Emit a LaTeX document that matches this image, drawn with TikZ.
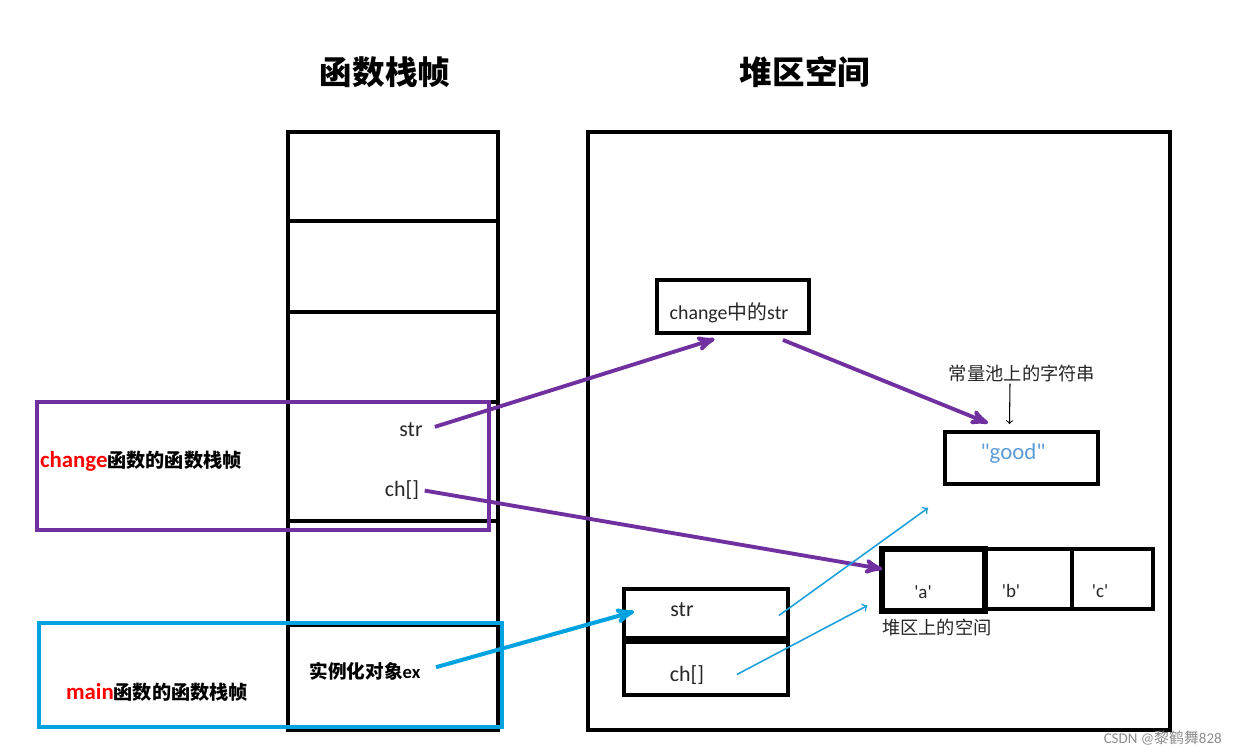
\documentclass[tikz,border=0pt]{standalone}
\usepackage{fontspec}
\setmainfont{Carlito}
\newfontfamily\cjk{Noto Sans CJK SC}
\newfontfamily\rawfont{Carlito}[Ligatures=TeXOff]
\usetikzlibrary{arrows,calc}
\definecolor{framepurple}{RGB}{112,48,160}
\definecolor{frameblue}{RGB}{0,163,224}
\definecolor{linkblue}{RGB}{30,160,220}
\definecolor{goodblue}{RGB}{91,155,213}
\tikzset{
  wall/.style = {draw=black, line width=2.3pt},
  cellbox/.style = {draw=black, line width=2.2pt, inner sep=0pt},
  txt/.style = {inner sep=1pt, font=\fontsize{12.5}{15}\selectfont, text=black!85},
  chartxt/.style = {inner sep=1pt, font=\rawfont\fontsize{10.8}{13}\selectfont, text=black!85},
  note/.style = {inner sep=1pt, font=\cjk\fontsize{10.4}{12}\selectfont, text=black!85},
  tagtxt/.style = {inner sep=1pt, font=\bfseries\fontsize{13}{15}\selectfont},
  title/.style = {inner sep=1pt, font=\cjk\bfseries\fontsize{18.5}{22}\selectfont},
  ptr_p/.style = {->, >=stealth', draw=framepurple, line width=2.2pt},
  ptr_b/.style = {->, >=stealth', draw=frameblue, line width=2.3pt},
  ptr_t/.style = {-to, draw=linkblue, line width=0.9pt}
}
\begin{document}
\begin{tikzpicture}[x=0.02cm, y=-0.02cm]
  \useasboundingbox (0,0) rectangle (1238,756);
  % titles
  \node[title] (stkT) at (385,72) {函数栈帧};
  \node[title] (heapT) at (805,72) {堆区空间};
  % stack frames
  \draw[wall] (288,132) rectangle (498,730);
  \foreach \y in {221,312,402,521,625}
    \draw[wall] (288,\y) -- (498,\y);
  % heap
  \draw[wall] (588,132) rectangle (1170,730);
  % function frames
  \draw[framepurple, line width=2pt] (37,402) rectangle (489,530);
  \node[tagtxt, anchor=west] (chgTag) at (38,461)
    {{\color{red}change}{\cjk\fontsize{10.9}{13}\selectfont 函数的函数栈帧}};
  \draw[frameblue, line width=2.3pt] (39,623) rectangle (502,727);
  \node[tagtxt] (mainTag) at (157,692)
    {{\color{red}main}{\cjk\fontsize{10.9}{13}\selectfont 函数的函数栈帧}};
  % locals
  \node[txt] (sStr) at (411,430) {str};
  \node[txt] (sCh) at (402,490) {ch[]};
  \node[inner sep=1pt, font=\bfseries\fontsize{10.6}{13}\selectfont] (sEx) at (365,671)
    {{\cjk 实例化对象}ex};
  % heap objects
  \node[cellbox, minimum width=3.04cm, minimum height=1.06cm] (chg) at (733,306.5) {};
  \node[txt, font=\fontsize{11.3}{13}\selectfont] (chgT) at (729,313) {change{\cjk 中的}str};
  \node[cellbox, minimum width=3.06cm, minimum height=1.04cm] (good) at (1021.5,458) {};
  \node[txt, font=\rawfont\fontsize{13}{15}\selectfont, text=goodblue] (goodT) at (1013,454) {"good"};
  \node[note] (pool) at (1022,373) {常量池上的字符串};
  \node[cellbox, line width=3pt, minimum width=2.06cm, minimum height=1.24cm] (cellA) at (933.5,580) {};
  \node[cellbox, minimum width=1.74cm, minimum height=1.2cm] (cellB) at (1028.5,579) {};
  \node[cellbox, minimum width=1.62cm, minimum height=1.2cm] (cellC) at (1112.5,579) {};
  \node[chartxt] (ta) at (923,592) {'a'};
  \node[chartxt] (tb) at (1011,591) {'b'};
  \node[chartxt] (tc) at (1100,591) {'c'};
  \node[note, anchor=west] (heapNote) at (880,628) {堆区上的空间};
  \node[cellbox, minimum width=3.28cm, minimum height=0.98cm] (objStr) at (706,613.5) {};
  \node[cellbox, minimum width=3.28cm, minimum height=1.06cm] (objCh) at (706,668.5) {};
  \node[txt] (oStr) at (682,610) {str};
  \node[txt] (oCh) at (687,675) {ch[]};
  \coordinate (freeA) at (928,508);
  % pointers
  \draw[ptr_p, shorten <=6pt, shorten >=2pt] (sStr.east) -- ($(chg.south)+(-15,3)$);
  \draw[ptr_p] ($(chg.south east)+(-28,5)$) -- ($(good.north west)+(45,-7)$);
  \draw[ptr_p, shorten <=2pt] (sCh.east) -- ($(cellA.west)+(3,-11)$);
  \draw[ptr_b, shorten <=8pt] (sEx.east) -- ($(objStr.west)+(12,-2)$);
  \draw[ptr_t] ($(objStr.east)+(-11,2)$) -- (freeA);
  \draw[ptr_t] ($(objCh.east)+(-53,6)$) -- ($(cellA.south west)+(-12,-8)$);
  \draw[-to, line width=0.6pt] ($(pool.south)+(-12,0)$) -- ($(good.north)+(-12,-6)$);
  % watermark
  \node[inner sep=0pt, anchor=east, text=black!45, font=\fontsize{8.5}{10}\selectfont] (mark) at (1222,738)
    {CSDN @{\cjk 黎鹤舞}828};
\end{tikzpicture}
\end{document}
